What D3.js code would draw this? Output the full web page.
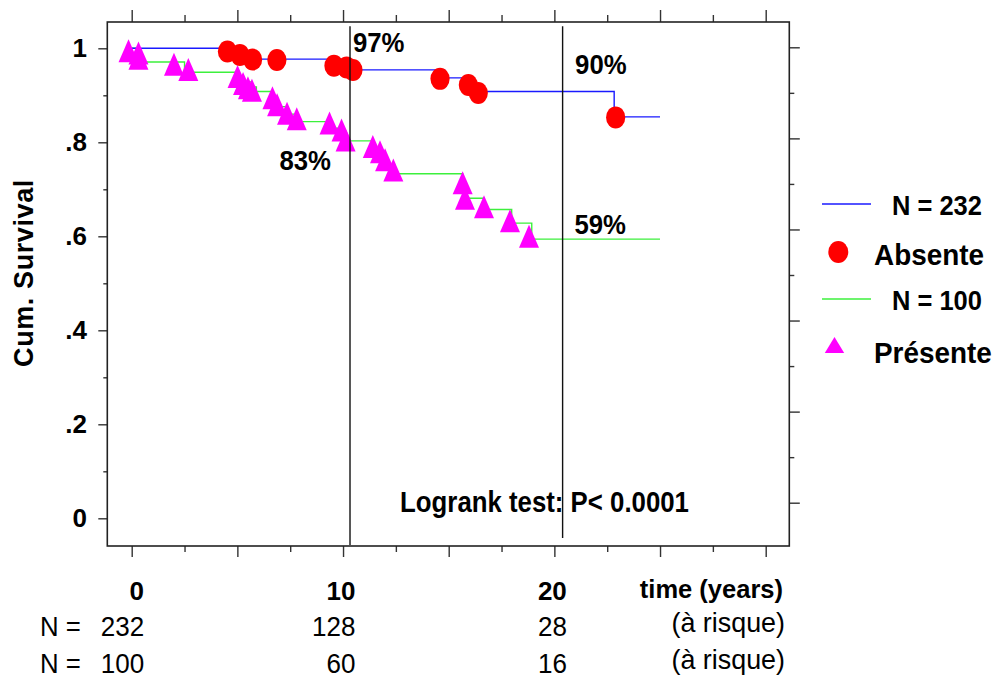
<!DOCTYPE html>
<html>
<head>
<meta charset="UTF-8">
<title>Cum. Survival</title>
<script src="https://d3js.org/d3.v7.min.js"></script>
<style>
  body { margin: 0; background: #fff; }
  text { font-family: "Liberation Sans", Arial, Helvetica, sans-serif; fill: #000; }
</style>
</head>
<body>
<svg id="chart" width="999" height="679"></svg>
<script>
// ---- data ----
// Absente (N = 232): step curve
const blueTimes = [0, 5.0, 9.9, 14.8, 16.0, 22.83, 25];
const blueSurv  = [1, 0.977, 0.954, 0.937, 0.908, 0.854, 0.854];
// Absente markers
const circTimes = [4.53, 5.12, 5.72, 6.87, 9.57, 10.17, 10.47, 14.59, 15.93, 16.40, 22.90];
const circSurv  = [0.993, 0.986, 0.976, 0.975, 0.963, 0.959, 0.954, 0.935, 0.922, 0.905, 0.853];

// Présente (N = 100): step curve
const greenTimes = [0, 0.3, 2.5, 5.0, 5.3, 5.6, 5.9, 6.7, 6.9, 7.4, 7.85, 9.4, 9.95, 10.15,
                    11.4, 11.75, 12.0, 12.38, 15.66, 15.77, 16.65, 17.98, 18.93, 25];
const greenSurv  = [1, 0.971, 0.949, 0.939, 0.929, 0.918, 0.908, 0.892, 0.876, 0.860, 0.844, 0.830, 0.817, 0.803,
                    0.786, 0.768, 0.751, 0.733, 0.707, 0.681, 0.657, 0.628, 0.594, 0.594];
// Présente markers
const triTimes = [-0.15, 0.32, 0.32, 2.0, 2.68, 5.01, 5.27, 5.50, 5.69, 6.66, 6.88, 7.35, 7.81,
                  9.36, 9.93, 10.12, 11.41, 11.75, 11.99, 12.38, 15.66, 15.77, 16.67, 17.9, 18.8];
const triSurv  = [0.995, 0.990, 0.979, 0.966, 0.955, 0.940, 0.925, 0.916, 0.911, 0.895, 0.880, 0.862, 0.850,
                  0.841, 0.826, 0.805, 0.791, 0.780, 0.763, 0.741, 0.714, 0.681, 0.663, 0.633, 0.600];

// reference lines (years)
const refTimes = [10.33, 20.39];
const refBottom = [-0.057, -0.042];

// percent annotations
const pctLabels = ["97%", "90%", "83%", "59%"];
const pctTimes  = [10.47, 20.98, 6.99, 20.95];
const pctSurv   = [0.993, 0.945, 0.741, 0.604];

// x tick labels and numbers at risk
const xLabelTimes = [0, 10, 20];
const riskAbs  = [232, 128, 28];
const riskPres = [100, 60, 16];

const yLabels = [0, 0.2, 0.4, 0.6, 0.8, 1];
const yLabelText = ["0", ".2", ".4", ".6", ".8", "1"];

// ---- layout ----
const svg = d3.select("#chart");
const frame = { left: 107.3, top: 22, right: 789.3, bottom: 546 };

const x = d3.scaleLinear().domain([0, 30]).range([131.7, 765.7]);
const y = d3.scaleLinear().domain([0, 1]).range([518.3, 48.3]);
// the right-hand axis of the original uses its own spacing
const yR = d3.scaleLinear().domain([0, 1]).range([502.7, 47.3]);

function txt(str, px, py, size, bold, anchor, sx) {
  return svg.append("text")
    .attr("transform", `translate(${px},${py}) scale(${sx},1)`)
    .attr("font-size", size)
    .attr("font-weight", bold ? "bold" : "normal")
    .attr("text-anchor", anchor)
    .text(str);
}

function styleAxis(g) {
  g.select(".domain").remove();
  g.selectAll("line").attr("stroke", "#333").attr("stroke-width", 1.4);
}

// ticks
const xMajor = d3.range(0, 31, 5);
const xMinor = d3.range(2.5, 30, 5);
svg.append("g").attr("transform", `translate(0,${frame.bottom})`)
  .call(d3.axisBottom(x).tickValues(xMajor).tickSize(11).tickFormat(""))
  .call(styleAxis);
svg.append("g").attr("transform", `translate(0,${frame.bottom})`)
  .call(d3.axisBottom(x).tickValues(xMinor).tickSize(6).tickFormat(""))
  .call(styleAxis);
svg.append("g").attr("transform", `translate(0,${frame.top})`)
  .call(d3.axisTop(x).tickValues(xMajor).tickSize(12).tickFormat(""))
  .call(styleAxis);
svg.append("g").attr("transform", `translate(0,${frame.top})`)
  .call(d3.axisTop(x).tickValues(xMinor).tickSize(7).tickFormat(""))
  .call(styleAxis);

svg.append("g").attr("transform", `translate(${frame.left},0)`)
  .call(d3.axisLeft(y).tickValues(d3.range(0, 1.01, 0.2)).tickSize(9).tickFormat(""))
  .call(styleAxis);
svg.append("g").attr("transform", `translate(${frame.left},0)`)
  .call(d3.axisLeft(y).tickValues(d3.range(0.1, 1, 0.2)).tickSize(4).tickFormat(""))
  .call(styleAxis);
svg.append("g").attr("transform", `translate(${frame.right},0)`)
  .call(d3.axisRight(yR).tickValues(d3.range(0, 1.01, 0.2)).tickSize(10.5).tickFormat(""))
  .call(styleAxis);
svg.append("g").attr("transform", `translate(${frame.right},0)`)
  .call(d3.axisRight(yR).tickValues(d3.range(0.1, 1, 0.2)).tickSize(5).tickFormat(""))
  .call(styleAxis);

// frame
svg.append("rect")
  .attr("x", frame.left).attr("y", frame.top)
  .attr("width", frame.right - frame.left).attr("height", frame.bottom - frame.top)
  .attr("fill", "none").attr("stroke", "#222").attr("stroke-width", 1.6);

// step curves
const step = d3.line().curve(d3.curveStepAfter).x(d => x(d[0])).y(d => y(d[1]));
svg.append("path")
  .datum(greenTimes.map((t, i) => [t, greenSurv[i]]))
  .attr("d", step).attr("fill", "none").attr("stroke", "#3cf03c").attr("stroke-width", 1.4);
svg.append("path")
  .datum(blueTimes.map((t, i) => [t, blueSurv[i]]))
  .attr("d", step).attr("fill", "none").attr("stroke", "#1a1aff").attr("stroke-width", 1.4);

// markers
const triPath = "M0,-11.5L10,11.5L-10,11.5Z";
svg.append("g").selectAll("path")
  .data(triTimes.map((t, i) => [t, triSurv[i]]))
  .join("path")
  .attr("d", triPath)
  .attr("transform", d => `translate(${x(d[0])},${y(d[1])})`)
  .attr("fill", "#ff00ff");

svg.append("g").selectAll("ellipse")
  .data(circTimes.map((t, i) => [t, circSurv[i]]))
  .join("ellipse")
  .attr("cx", d => x(d[0])).attr("cy", d => y(d[1]))
  .attr("rx", 9.6).attr("ry", 11)
  .attr("fill", "#ff0000");

// vertical reference lines
svg.append("g").selectAll("line")
  .data(refTimes)
  .join("line")
  .attr("x1", d => x(d)).attr("x2", d => x(d))
  .attr("y1", y(1.047)).attr("y2", (d, i) => y(refBottom[i]))
  .attr("stroke", "#111").attr("stroke-width", 1.4);

// percent labels
pctLabels.forEach((s, i) => txt(s, x(pctTimes[i]), y(pctSurv[i]), 28, true, "start", 0.92));

// logrank
txt("Logrank test: P< 0.0001", x(12.7), y(0.014), 30, true, "start", 0.86);

// y tick labels
yLabels.forEach((v, i) => txt(yLabelText[i], 87, y(v) + 9, 26, true, "end", 1));

// y title
svg.append("text")
  .attr("transform", "translate(33,273) rotate(-90)")
  .attr("font-size", 27).attr("font-weight", "bold")
  .attr("text-anchor", "middle").attr("letter-spacing", 0.6)
  .text("Cum. Survival");

// x tick labels
xLabelTimes.forEach(t => txt(String(t), x(t) + (t === 0 ? 5 : -2), 600, 26, true, "middle", 1));
txt("time (years)", 783, 598, 25.5, true, "end", 1);

// numbers at risk
txt("N =", 40, 636, 28, false, "start", 0.92);
txt("N =", 40, 673, 28, false, "start", 0.92);
xLabelTimes.forEach((t, i) => {
  txt(String(riskAbs[i]), x(t) + 12.5, 636, 28, false, "end", 0.93);
  txt(String(riskPres[i]), x(t) + 12.5, 673, 28, false, "end", 0.93);
});
txt("(à risque)", 785, 632, 28, false, "end", 0.96);
txt("(à risque)", 785, 669, 28, false, "end", 0.96);

// legend
const leg = svg.append("g");
leg.append("line").attr("x1", 822).attr("x2", 871).attr("y1", 204).attr("y2", 204)
  .attr("stroke", "#1a1aff").attr("stroke-width", 1.4);
txt("N = 232", 892, 215, 28, true, "start", 0.91);
leg.append("ellipse").attr("cx", 838.3).attr("cy", 252).attr("rx", 10).attr("ry", 11).attr("fill", "#ff0000");
txt("Absente", 874, 265, 30, true, "start", 0.93);
leg.append("line").attr("x1", 822).attr("x2", 871).attr("y1", 299).attr("y2", 299)
  .attr("stroke", "#3cf03c").attr("stroke-width", 1.4);
txt("N = 100", 892, 310, 28, true, "start", 0.91);
leg.append("path").attr("d", "M0,-8L9.7,8L-9.7,8Z")
  .attr("transform", "translate(834.5,345)").attr("fill", "#ff00ff");
txt("Présente", 874, 363, 30, true, "start", 0.93);
</script>
</body>
</html>
